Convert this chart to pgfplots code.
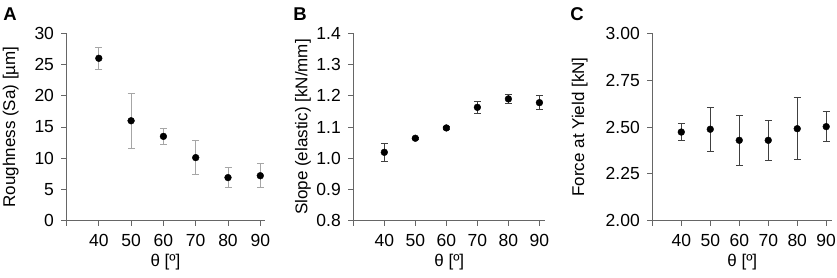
\documentclass[border=0pt]{standalone}
\usepackage{pgfplots}
\pgfplotsset{compat=1.18}
\usepackage{pgfplotstable}
\usepackage{fontspec}
\setmainfont{Liberation Sans}

\pgfplotstableread{
x y e
40 26.0 1.7
50 16.0 4.4
60 13.5 1.3
70 10.1 2.7
80 6.9 1.6
90 7.2 1.9
}\dataA
\pgfplotstableread{
x y e
40 1.019 0.028
50 1.064 0.004
60 1.097 0.004
70 1.163 0.019
80 1.190 0.015
90 1.178 0.023
}\dataB
\pgfplotstableread{
x y e
40 2.473 0.045
50 2.488 0.118
60 2.429 0.132
70 2.429 0.108
80 2.491 0.166
90 2.502 0.079
}\dataC

\pgfplotsset{
 panel/.style={
  scale only axis, height=187.4pt, axis lines*=left, xmin=30,
  anchor=south west,
  xtick={30,40,...,90}, xticklabels={,40,50,60,70,80,90},
  tick align=outside, major tick length=5pt,
  axis line style={black!60, line width=0.8pt},
  tick style={black!60, line width=0.8pt},
  ticklabel style={font=\fontsize{17.5}{20}\selectfont},
  xticklabel style={yshift=-5pt},
  yticklabel style={xshift=-4pt},
  label style={font=\fontsize{17}{20}\selectfont},
  /pgf/number format/assume math mode=true,
  xlabel={θ [º]},
  xlabel style={at={(axis description cs:0.5,-0.22)}, anchor=center},
  clip=false,
 },
 pts/.style={only marks, mark=*, mark size=3.4pt, black,
  error bars/.cd, y dir=both, y explicit,
  error bar style={#1, line width=0.8pt},
  error mark options={rotate=90, mark size=3.5pt, #1, line width=0.8pt}},
}

\begin{document}
\begin{tikzpicture}
\useasboundingbox (0,0) rectangle (837pt,278pt);

\begin{axis}[panel, at={(66.5pt,57.3pt)}, width=198pt, xmax=91.3,
  ymin=0, ymax=30, ytick={0,5,...,30},
  ylabel={Roughness (Sa) [µm]},
  ylabel style={at={(axis description cs:-0.282,0.5)}, anchor=center}]
\addplot[pts=black!35] table[x=x, y=y, y error=e] {\dataA};
\end{axis}

\begin{axis}[panel, at={(353.3pt,57.3pt)}, width=192pt, xmax=91.9,
  ymin=0.8, ymax=1.4, ytick={0.8,0.9,...,1.4},
  yticklabel style={/pgf/number format/.cd, fixed, fixed zerofill, precision=1},
  ylabel={Slope (elastic) [kN/mm]},
  ylabel style={at={(axis description cs:-0.262,0.5)}, anchor=center}]
\addplot[pts=black!75] table[x=x, y=y, y error=e] {\dataB};
\end{axis}

\begin{axis}[panel, at={(652.3pt,57.3pt)}, width=180pt, xmax=92.1,
  ymin=2, ymax=3, ytick={2,2.25,...,3},
  yticklabel style={/pgf/number format/.cd, fixed, fixed zerofill, precision=2},
  ylabel={Force at Yield [kN]},
  ylabel style={at={(axis description cs:-0.403,0.5)}, anchor=center}]
\addplot[pts=black!75] table[x=x, y=y, y error=e] {\dataC};
\end{axis}

\node[font=\bfseries\fontsize{18.5}{20}\selectfont] at (10pt,264.3pt) {A};
\node[font=\bfseries\fontsize{18.5}{20}\selectfont] at (300pt,264.3pt) {B};
\node[font=\bfseries\fontsize{18.5}{20}\selectfont] at (577pt,264.3pt) {C};
\end{tikzpicture}
\end{document}
